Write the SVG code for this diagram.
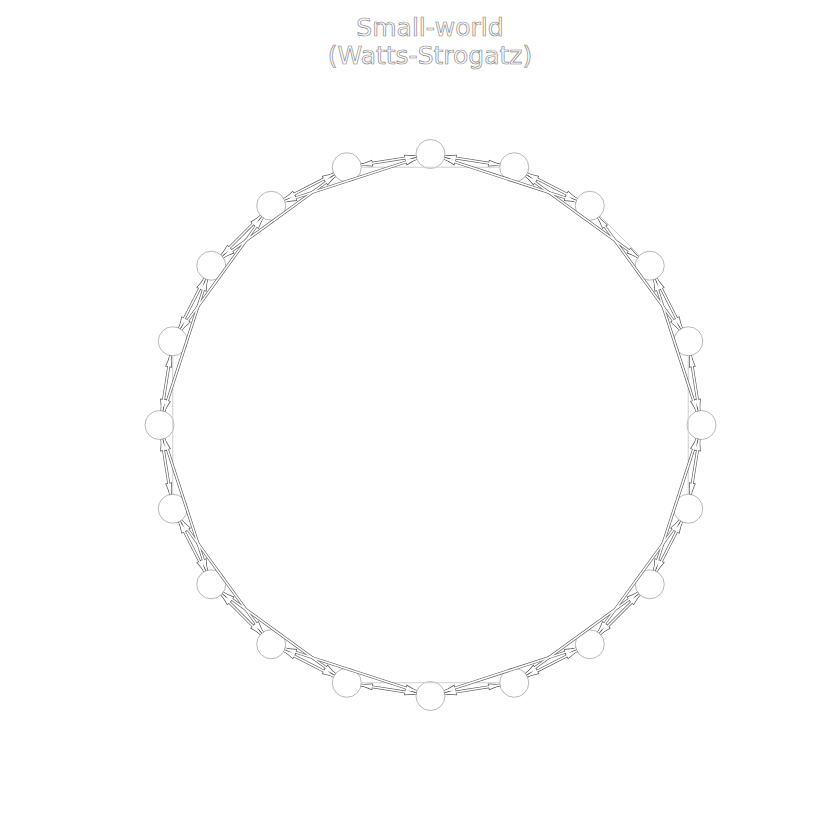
<svg xmlns="http://www.w3.org/2000/svg" xmlns:xlink="http://www.w3.org/1999/xlink" width="840" height="840" viewBox="0 0 840 840">
<style>
.title{font-family:"DejaVu Sans",sans-serif;font-size:25px;fill:#fff;stroke:#888;stroke-width:0.7;text-anchor:middle}
.node circle{fill:#fff;stroke:#999;stroke-width:0.7}
.n{stroke-dasharray:55.79 1000;stroke-dashoffset:-14.5}
.s{stroke-dasharray:138.49 1000;stroke-dashoffset:-14.5}
.light line{stroke:#cfcfcf;stroke-width:1;fill:none}
</style>
<defs>
<marker id="ad" markerUnits="userSpaceOnUse" orient="auto-start-reverse" refX="14.5" refY="0" markerWidth="1" markerHeight="1" overflow="visible"><path d="M0,0 L-11,-2.6 L-11,2.6 Z" fill="#555" stroke="#555" stroke-width="1.4"/></marker>
<marker id="aw" markerUnits="userSpaceOnUse" orient="auto-start-reverse" refX="14.5" refY="0" markerWidth="1" markerHeight="1" overflow="visible"><path d="M0,0 L-11,-2.6 L-11,2.6 Z" fill="#fff"/></marker>
<g id="edgeLines">
<line class="n" x1="430.5" y1="154" x2="514.24" y2="167.25"/>
<line class="n" x1="514.24" y1="167.25" x2="589.79" y2="205.76"/>
<line class="n" x1="649.74" y1="265.71" x2="688.25" y2="341.26"/>
<line class="n" x1="688.25" y1="341.26" x2="701.5" y2="425"/>
<line class="n" x1="701.5" y1="425" x2="688.25" y2="508.74"/>
<line class="n" x1="688.25" y1="508.74" x2="649.74" y2="584.29"/>
<line class="n" x1="649.74" y1="584.29" x2="589.79" y2="644.24"/>
<line class="n" x1="589.79" y1="644.24" x2="514.24" y2="682.75"/>
<line class="n" x1="514.24" y1="682.75" x2="430.5" y2="696"/>
<line class="n" x1="430.5" y1="696" x2="346.76" y2="682.75"/>
<line class="n" x1="346.76" y1="682.75" x2="271.21" y2="644.24"/>
<line class="n" x1="271.21" y1="644.24" x2="211.26" y2="584.29"/>
<line class="n" x1="211.26" y1="584.29" x2="172.75" y2="508.74"/>
<line class="n" x1="172.75" y1="508.74" x2="159.5" y2="425"/>
<line class="n" x1="159.5" y1="425" x2="172.75" y2="341.26"/>
<line class="n" x1="172.75" y1="341.26" x2="211.26" y2="265.71"/>
<line class="n" x1="211.26" y1="265.71" x2="271.21" y2="205.76"/>
<line class="n" x1="271.21" y1="205.76" x2="346.76" y2="167.25"/>
<line class="n" x1="346.76" y1="167.25" x2="430.5" y2="154"/>
<line class="s" x1="430.5" y1="154" x2="589.79" y2="205.76"/>
<line class="s" x1="514.24" y1="167.25" x2="649.74" y2="265.71"/>
<line class="s" x1="589.79" y1="205.76" x2="688.25" y2="341.26"/>
<line class="s" x1="649.74" y1="265.71" x2="701.5" y2="425"/>
<line class="s" x1="701.5" y1="425" x2="649.74" y2="584.29"/>
<line class="s" x1="688.25" y1="508.74" x2="589.79" y2="644.24"/>
<line class="s" x1="649.74" y1="584.29" x2="514.24" y2="682.75"/>
<line class="s" x1="589.79" y1="644.24" x2="430.5" y2="696"/>
<line class="s" x1="430.5" y1="696" x2="271.21" y2="644.24"/>
<line class="s" x1="346.76" y1="682.75" x2="211.26" y2="584.29"/>
<line class="s" x1="271.21" y1="644.24" x2="172.75" y2="508.74"/>
<line class="s" x1="211.26" y1="584.29" x2="159.5" y2="425"/>
<line class="s" x1="159.5" y1="425" x2="211.26" y2="265.71"/>
<line class="s" x1="172.75" y1="341.26" x2="271.21" y2="205.76"/>
<line class="s" x1="211.26" y1="265.71" x2="346.76" y2="167.25"/>
<line class="s" x1="271.21" y1="205.76" x2="430.5" y2="154"/>
</g>
</defs>
<text class="title" x="430" y="36">Small-world</text>
<text class="title" x="430" y="64">(Watts-Strogatz)</text>
<g id="nodes">
<g id="n0" class="node"><circle cx="430.5" cy="154" r="14.5"/></g>
<g id="n1" class="node"><circle cx="514.24" cy="167.25" r="14.5"/></g>
<g id="n2" class="node"><circle cx="589.79" cy="205.76" r="14.5"/></g>
<g id="n3" class="node"><circle cx="649.74" cy="265.71" r="14.5"/></g>
<g id="n4" class="node"><circle cx="688.25" cy="341.26" r="14.5"/></g>
<g id="n5" class="node"><circle cx="701.5" cy="425" r="14.5"/></g>
<g id="n6" class="node"><circle cx="688.25" cy="508.74" r="14.5"/></g>
<g id="n7" class="node"><circle cx="649.74" cy="584.29" r="14.5"/></g>
<g id="n8" class="node"><circle cx="589.79" cy="644.24" r="14.5"/></g>
<g id="n9" class="node"><circle cx="514.24" cy="682.75" r="14.5"/></g>
<g id="n10" class="node"><circle cx="430.5" cy="696" r="14.5"/></g>
<g id="n11" class="node"><circle cx="346.76" cy="682.75" r="14.5"/></g>
<g id="n12" class="node"><circle cx="271.21" cy="644.24" r="14.5"/></g>
<g id="n13" class="node"><circle cx="211.26" cy="584.29" r="14.5"/></g>
<g id="n14" class="node"><circle cx="172.75" cy="508.74" r="14.5"/></g>
<g id="n15" class="node"><circle cx="159.5" cy="425" r="14.5"/></g>
<g id="n16" class="node"><circle cx="172.75" cy="341.26" r="14.5"/></g>
<g id="n17" class="node"><circle cx="211.26" cy="265.71" r="14.5"/></g>
<g id="n18" class="node"><circle cx="271.21" cy="205.76" r="14.5"/></g>
<g id="n19" class="node"><circle cx="346.76" cy="167.25" r="14.5"/></g>
</g>
<g id="connectors">
<g class="light">
<line class="n" x1="589.79" y1="205.76" x2="649.74" y2="265.71"/>
<line class="s" x1="346.76" y1="167.25" x2="514.24" y2="167.25"/>
<line class="s" x1="688.25" y1="341.26" x2="688.25" y2="508.74"/>
<line class="s" x1="514.24" y1="682.75" x2="346.76" y2="682.75"/>
<line class="s" x1="172.75" y1="508.74" x2="172.75" y2="341.26"/>
</g>
<use href="#edgeLines" xlink:href="#edgeLines" stroke="#555" stroke-width="2.8" fill="none" marker-start="url(#ad)" marker-end="url(#ad)"/>
<use href="#edgeLines" xlink:href="#edgeLines" stroke="#fff" stroke-width="1.6" fill="none" marker-start="url(#aw)" marker-end="url(#aw)"/>
</g>
</svg>
